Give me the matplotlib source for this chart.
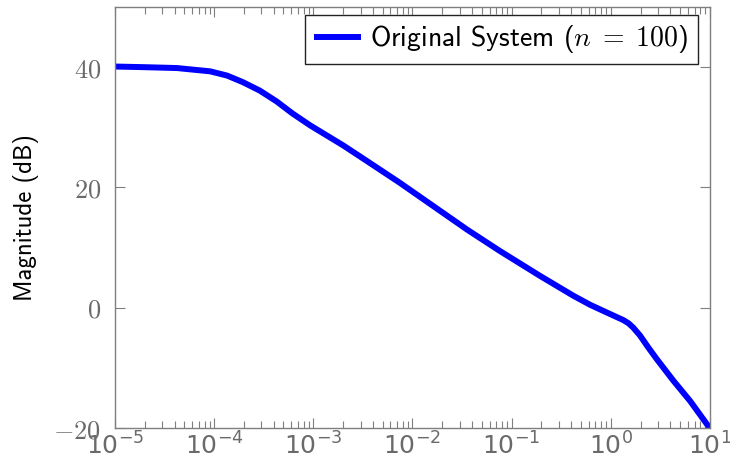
import numpy as np
import matplotlib
matplotlib.use("Agg")
import matplotlib.pyplot as plt
from matplotlib.ticker import LogLocator, LogFormatterMathtext, NullFormatter

plt.rcParams['mathtext.fontset'] = 'cm'

# Data (log10 of frequency, magnitude in dB)
log_freq = [-5.0, -4.72, -4.375, -4.04, -3.87, -3.71, -3.54, -3.37, -3.21,
            -3.03, -2.86, -2.70, -2.46, -2.13, -1.79, -1.45, -1.12, -0.90,
            -0.714, -0.546, -0.378, -0.21, -0.042, 0.126, 0.18, 0.226, 0.294,
            0.378, 0.462, 0.63, 0.80, 0.98, 1.0]
magnitude_db = [40.1, 40.0, 39.85, 39.3, 38.6, 37.5, 36.1, 34.3, 32.3,
                30.3, 28.6, 27.0, 24.4, 20.8, 16.9, 13.0, 9.45, 7.2,
                5.3, 3.65, 2.0, 0.5, -0.78, -2.05, -2.6, -3.3, -4.6,
                -6.6, -8.5, -12.1, -15.5, -19.6, -20.0]
freq = [10 ** v for v in log_freq]

x_ticks = [1e-5, 1e-4, 1e-3, 1e-2, 1e-1, 1e0, 1e1]
y_ticks = [-20, 0, 20, 40]
y_tick_labels = ['$-20$', '$0$', '$20$', '$40$']
series_label = 'Original System ($n\\;=\\;100$) '

gray = '#7f7f7f'
label_gray = '#6a6a6a'

fig = plt.figure(figsize=(7.30, 4.66), dpi=100)
ax = fig.add_axes([0.1575, 0.0815, 0.815, 0.9035])

ax.plot(freq, magnitude_db, color='#0000ff', lw=4.3, solid_capstyle='butt',
        solid_joinstyle='round', label=series_label)

ax.set_xscale('log')
ax.set_xlim(1e-5, 1e1)
ax.set_ylim(-20, 50)

ax.set_xticks(x_ticks)
ax.xaxis.set_major_formatter(LogFormatterMathtext())
ax.xaxis.set_minor_locator(LogLocator(base=10, subs=np.arange(2, 10), numticks=100))
ax.xaxis.set_minor_formatter(NullFormatter())

ax.set_yticks(y_ticks)
ax.set_yticklabels(y_tick_labels)

for s in ax.spines.values():
    s.set_color(gray)
    s.set_linewidth(1.0)

ax.tick_params(axis='both', which='major', direction='in', length=7.2, width=0.8,
               color=gray, labelcolor=label_gray, labelsize=19,
               top=True, right=True)
ax.tick_params(axis='x', which='minor', direction='in', length=4.8, width=0.8,
               color=gray, top=True, bottom=True)
ax.tick_params(axis='x', which='major', pad=3, labelsize=18)
ax.tick_params(axis='y', which='major', pad=10)

ax.set_ylabel('Magnitude (dB)', family='cmss10', fontsize=17.8, color='black', labelpad=10)

leg = ax.legend(loc='upper right', bbox_to_anchor=(0.98, 0.981),
                prop={'family': 'cmss10', 'size': 20},
                frameon=True, fancybox=False, framealpha=1, edgecolor='#222222',
                handlelength=1.7, handletextpad=0.32, borderpad=0.3,
                borderaxespad=0.0)
leg.get_frame().set_linewidth(1.0)

fig.savefig('out.png', dpi=100)
